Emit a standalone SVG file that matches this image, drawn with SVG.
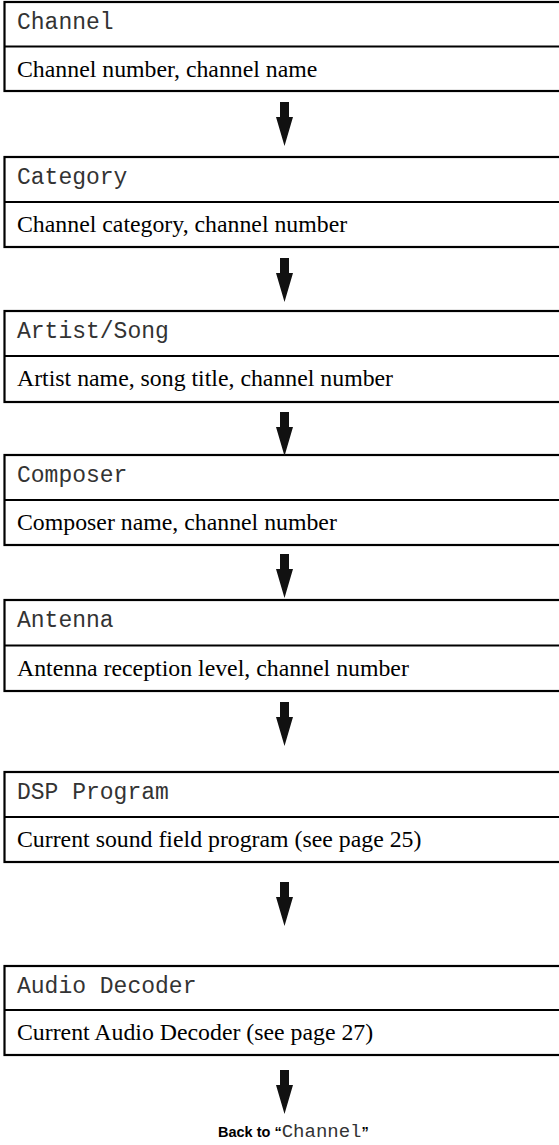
<svg xmlns="http://www.w3.org/2000/svg" width="559" height="1145" viewBox="0 0 559 1145">
<style>
.box{fill:#fff;stroke:#000;stroke-width:2.2}
.div{stroke:#000;stroke-width:2.2}
.hd{font-family:"Liberation Mono","DejaVu Sans Mono",monospace;font-size:23px;fill:#333}
.bd{font-family:"Liberation Serif","Times New Roman",serif;font-size:23.8px;fill:#000}
.ar{fill:#111}
.bk{font-family:"Liberation Sans",Arial,sans-serif;font-size:14.5px;font-weight:bold;fill:#000}
.bkm{font-family:"Liberation Mono","DejaVu Sans Mono",monospace;font-size:19px;font-weight:normal;fill:#333}
</style>
<defs>
<polygon id="arrow" class="ar" points="280,0 289,0 289,15 293,15 284.5,44 276,15 280,15"/>
</defs>
<g id="node-channel">
<rect class="box" x="4.5" y="2" width="560" height="89"/>
<line class="div" x1="4.5" y1="46.5" x2="560" y2="46.5"/>
<text class="hd" x="17" y="28.5">Channel</text>
<text class="bd" x="17" y="76.5">Channel number, channel name</text>
</g>
<g id="node-category">
<rect class="box" x="4.5" y="157" width="560" height="90"/>
<line class="div" x1="4.5" y1="202" x2="560" y2="202"/>
<text class="hd" x="17" y="183.5">Category</text>
<text class="bd" x="17" y="232">Channel category, channel number</text>
</g>
<g id="node-artist">
<rect class="box" x="4.5" y="311" width="560" height="91"/>
<line class="div" x1="4.5" y1="356" x2="560" y2="356"/>
<text class="hd" x="17" y="337.5">Artist/Song</text>
<text class="bd" x="17" y="386">Artist name, song title, channel number</text>
</g>
<g id="node-composer">
<rect class="box" x="4.5" y="455" width="560" height="90"/>
<line class="div" x1="4.5" y1="500" x2="560" y2="500"/>
<text class="hd" x="17" y="481.5">Composer</text>
<text class="bd" x="17" y="530">Composer name, channel number</text>
</g>
<g id="node-antenna">
<rect class="box" x="4.5" y="600" width="560" height="91"/>
<line class="div" x1="4.5" y1="645.5" x2="560" y2="645.5"/>
<text class="hd" x="17" y="626.5">Antenna</text>
<text class="bd" x="17" y="675.5">Antenna reception level, channel number</text>
</g>
<g id="node-dsp">
<rect class="box" x="4.5" y="772" width="560" height="90"/>
<line class="div" x1="4.5" y1="817" x2="560" y2="817"/>
<text class="hd" x="17" y="798.5">DSP Program</text>
<text class="bd" x="17" y="847">Current sound field program (see page 25)</text>
</g>
<g id="node-audio">
<rect class="box" x="4.5" y="966" width="560" height="89"/>
<line class="div" x1="4.5" y1="1010" x2="560" y2="1010"/>
<text class="hd" x="17" y="992.5">Audio Decoder</text>
<text class="bd" x="17" y="1040">Current Audio Decoder (see page 27)</text>
</g>
<g id="connectors">
<use href="#arrow" y="102"/>
<use href="#arrow" y="258"/>
<use href="#arrow" y="412"/>
<use href="#arrow" y="554"/>
<use href="#arrow" y="702"/>
<use href="#arrow" y="882"/>
<use href="#arrow" y="1070"/>
</g>
<g id="node-back">
<text class="bk" x="218" y="1137">Back to “<tspan class="bkm">Channel</tspan>”</text>
</g>
</svg>
